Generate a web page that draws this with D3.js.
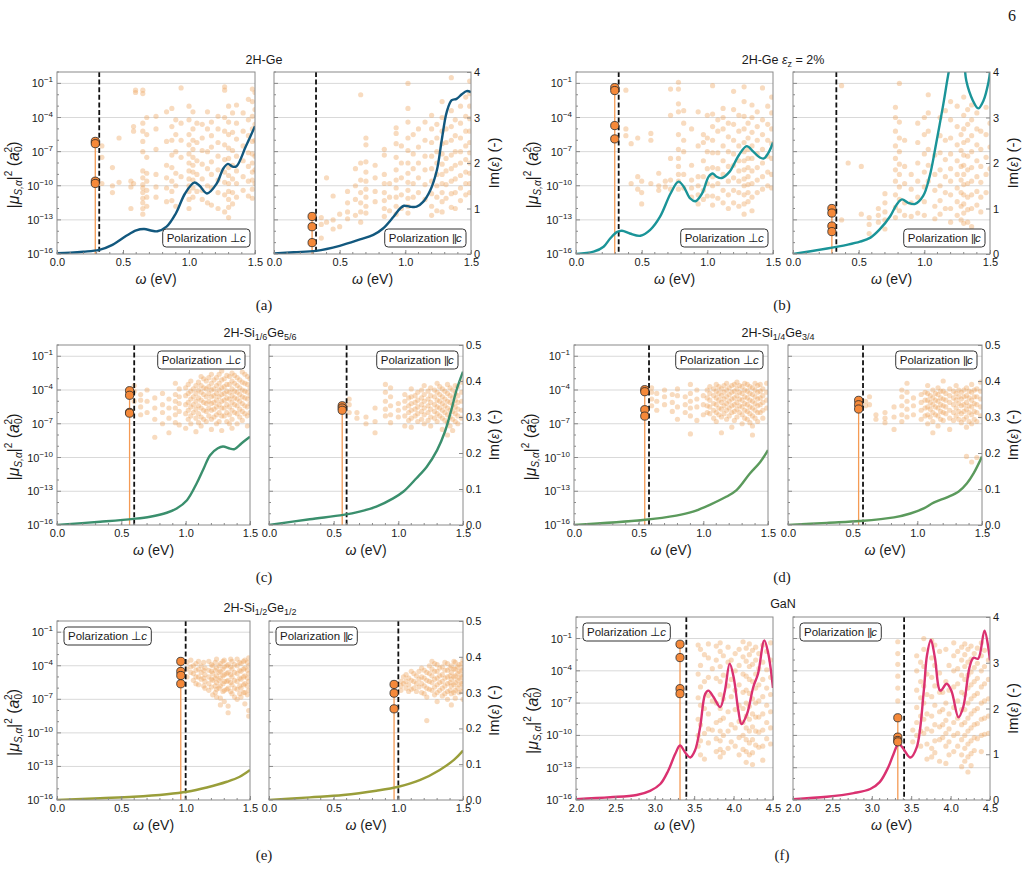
<!DOCTYPE html>
<html><head><meta charset="utf-8">
<script src="https://cdn.jsdelivr.net/npm/d3@7"></script>
<style>
body{margin:0;background:#fff;}
text{font-family:"Liberation Sans",Arial,Helvetica,sans-serif;fill:#1a1a1a;}
</style></head><body>
<svg id="c" width="1025" height="891"></svg>
<script>
// ---------------- DATA ----------------
// Im(eps) curves: [omega (eV), Im(eps)]
const curve_a_perp = [[0,0.02],[0.1,0.03],[0.2,0.05],[0.32,0.09],[0.42,0.2],[0.525,0.4],[0.6,0.52],[0.66,0.55],[0.72,0.51],[0.76,0.5],[0.83,0.6],[0.9,0.89],[0.97,1.33],[1.04,1.57],[1.08,1.5],[1.136,1.33],[1.21,1.55],[1.26,1.88],[1.295,1.98],[1.33,1.92],[1.36,1.93],[1.43,2.36],[1.5,2.81]];
const curve_a_par = [[0,0.01],[0.15,0.04],[0.32,0.07],[0.5,0.18],[0.655,0.32],[0.756,0.42],[0.83,0.56],[0.91,0.82],[0.96,1.0],[0.99,1.06],[1.035,1.04],[1.086,1.04],[1.137,1.15],[1.19,1.4],[1.24,1.84],[1.277,2.5],[1.315,3.12],[1.353,3.38],[1.39,3.41],[1.43,3.51],[1.467,3.58],[1.5,3.56]];
const curve_b_perp = [[0,0.0],[0.134,0.05],[0.21,0.16],[0.26,0.34],[0.31,0.48],[0.35,0.51],[0.41,0.45],[0.49,0.4],[0.565,0.53],[0.64,0.82],[0.72,1.33],[0.78,1.59],[0.82,1.48],[0.87,1.22],[0.91,1.16],[0.96,1.33],[1.01,1.7],[1.04,1.77],[1.07,1.7],[1.11,1.67],[1.17,1.81],[1.24,2.17],[1.3,2.37],[1.35,2.25],[1.4,2.12],[1.43,2.1],[1.47,2.25],[1.5,2.45]];
const curve_b_par = [[0,0.0],[0.26,0.12],[0.41,0.2],[0.51,0.27],[0.59,0.36],[0.66,0.54],[0.74,0.83],[0.79,1.09],[0.83,1.2],[0.88,1.12],[0.93,1.1],[0.99,1.27],[1.04,1.7],[1.09,2.43],[1.145,3.3],[1.18,3.91],[1.22,4.5],[1.26,4.8],[1.3,4.3],[1.32,3.8],[1.37,3.37],[1.41,3.2],[1.45,3.37],[1.49,3.8],[1.5,4.0]];
const curve_c_perp = [[0,0],[0.336,0.009],[0.595,0.017],[0.724,0.023],[0.853,0.034],[0.93,0.046],[1.01,0.069],[1.086,0.116],[1.14,0.157],[1.19,0.194],[1.25,0.213],[1.29,0.218],[1.345,0.212],[1.38,0.211],[1.435,0.227],[1.5,0.245]];
const curve_c_par = [[0,0],[0.315,0.016],[0.574,0.028],[0.7,0.037],[0.83,0.051],[0.96,0.074],[1.04,0.093],[1.14,0.13],[1.22,0.162],[1.3,0.208],[1.36,0.259],[1.41,0.32],[1.45,0.375],[1.5,0.426]];
const curve_d_perp = [[0,0],[0.534,0.014],[0.79,0.026],[0.92,0.037],[1.05,0.056],[1.18,0.079],[1.257,0.097],[1.36,0.143],[1.44,0.175],[1.5,0.208]];
const curve_d_par = [[0,0],[0.3,0.006],[0.56,0.011],[0.82,0.021],[0.946,0.032],[1.05,0.046],[1.126,0.062],[1.23,0.077],[1.32,0.093],[1.384,0.116],[1.436,0.144],[1.5,0.19]];
const curve_e_perp = [[0,0],[0.336,0.005],[0.595,0.009],[0.853,0.016],[1.01,0.023],[1.164,0.035],[1.32,0.051],[1.42,0.065],[1.5,0.084]];
const curve_e_par = [[0,0],[0.315,0.0074],[0.574,0.014],[0.83,0.026],[1.0,0.037],[1.17,0.056],[1.32,0.084],[1.43,0.112],[1.5,0.138]];
const curve_f_perp = [[2,0.02],[2.435,0.06],[2.77,0.11],[2.94,0.2],[3.07,0.35],[3.17,0.64],[3.26,1.01],[3.32,1.19],[3.385,1.04],[3.45,0.93],[3.51,1.08],[3.575,1.59],[3.64,2.32],[3.68,2.39],[3.745,2.25],[3.83,2.03],[3.89,2.39],[3.95,2.98],[4.0,2.69],[4.06,1.96],[4.1,1.66],[4.17,1.88],[4.25,2.47],[4.31,2.76],[4.39,3.49],[4.44,3.2],[4.5,2.45]];
const curve_f_par = [[2,0.02],[2.43,0.07],[2.77,0.15],[2.98,0.24],[3.1,0.39],[3.21,0.72],[3.275,1.0],[3.34,1.23],[3.4,1.12],[3.49,0.93],[3.57,1.15],[3.66,2.39],[3.7,3.16],[3.75,3.5],[3.8,3.12],[3.87,2.39],[3.95,2.54],[4.01,2.39],[4.1,1.81],[4.16,2.03],[4.24,2.9],[4.29,3.11],[4.35,3.09],[4.43,3.7],[4.5,3.05]];

// dipole scatter: [omega (eV), [log10 |mu|^2 ...]]
const scatter_a_perp = [[0.34,[-6.5,-7.5,-9.8]],[0.42,[-8.4,-10.0,-10.6]],[0.47,[-5.8,-9.7]],[0.56,[-9.6,-10.1,-12.0]],[0.58,[-4.8,-5.2,-9.8]],[0.595,[-1.6,-1.8]],[0.65,[-1.6,-1.9,-4.5,-5.2,-6.1,-7.0,-8.7,-9.3,-9.9,-10.2,-10.6,-11.1,-11.5,-12.0,-12.5]],[0.68,[-4.0,-5.5,-7.5,-8.9,-9.6,-10.4,-11.0,-11.8]],[0.75,[-3.9,-5.0,-6.8,-9.0,-10.1,-11.0]],[0.83,[-3.5,-6.1,-8.2,-9.3,-10.2,-11.4]],[0.87,[-3.2,-4.8,-6.0,-7.3,-8.4,-9.6,-10.5,-11.3]],[0.9,[-4.2,-5.5,-7.0,-8.9,-10.0,-11.8]],[0.94,[-1.4,-4.5,-6.0,-7.5,-9.2]],[1.0,[-3.0,-4.2,-5.5,-6.4,-7.2,-8.0,-8.7,-9.4,-10.0,-10.5,-11.2,-12.0]],[1.03,[-3.5,-5.0,-6.0,-6.8,-7.5,-8.2,-8.8,-9.5,-10.2,-11.0]],[1.06,[-4.5,-6.2,-7.8,-9.0,-10.5]],[1.1,[-4.6,-5.8,-6.9,-8.1,-9.4,-10.4,-11.2]],[1.14,[-3.5,-5.0,-7.0,-8.5,-10.0,-11.5]],[1.17,[-4.4,-5.6,-6.6,-7.9,-9.0,-10.2,-11.7]],[1.22,[-3.9,-5.0,-6.2,-7.4,-8.6,-9.5,-10.6,-12.0]],[1.27,[-1.3,-1.6,-4.0,-5.2,-6.4,-7.7,-8.8,-9.7,-10.8,-12.3]],[1.3,[-3.0,-4.4,-5.5,-6.7,-7.6,-8.4,-9.1,-9.8,-10.5,-11.2,-11.9,-12.8]],[1.33,[-3.6,-5.3,-6.9,-8.2,-9.4,-10.6,-11.6]],[1.36,[-2.9,-4.5,-5.9,-7.4,-8.7,-9.8,-11.0]],[1.41,[-3.6,-5.2,-6.5,-7.8,-9.2,-10.4]],[1.45,[-2.4,-4.2,-5.6,-7.1,-8.3,-9.6,-10.9]],[1.48,[-1.5,-2.6,-3.9,-5.0,-6.1,-7.2,-8.0,-8.8,-9.5,-10.3,-11.1]],[1.5,[-1.8,-3.3,-4.6,-6.0,-7.4,-8.6,-9.8]]];
const scatter_a_par = [[0.36,[-12.8,-13.4,-14.6]],[0.4,[-9.3,-13.2]],[0.45,[-10.9,-13.0,-13.8]],[0.5,[-12.5,-13.6]],[0.56,[-10.5,-11.5,-12.3,-12.9]],[0.62,[-8.5,-10.0,-11.2,-12.6]],[0.66,[-2.0,-8.0,-9.5,-10.6,-11.5,-12.3,-13.2]],[0.7,[-5.8,-6.4,-7.9,-8.8,-9.6,-10.3,-11.0,-11.8,-12.4]],[0.77,[-8.2,-9.3,-10.5,-11.4]],[0.84,[-6.8,-7.3,-9.0,-9.8,-10.6,-11.3,-12.0,-12.7]],[0.88,[-9.8,-11.0,-12.2]],[0.93,[-4.9,-5.4,-6.3,-7.5,-8.6,-9.5,-10.2,-11.0,-11.8,-12.5]],[0.97,[-6.5,-8.0,-9.3,-10.8,-12.0]],[1.02,[-1.0,-3.2,-4.4,-5.8,-6.9,-8.0,-8.9,-9.7,-10.4,-11.1,-11.8,-12.4]],[1.06,[-5.5,-7.2,-8.5,-9.8,-11.0]],[1.1,[-5.0,-6.6,-8.0,-9.3,-10.6]],[1.15,[-4.4,-6.0,-7.4,-8.6,-9.9,-11.2]],[1.2,[-3.8,-5.0,-6.2,-7.4,-8.5,-9.6,-10.7,-11.8,-12.6]],[1.24,[-4.6,-5.8,-7.0,-8.0,-9.0,-10.0,-11.0,-12.2]],[1.28,[-2.6,-4.0,-5.2,-6.3,-7.2,-8.1,-9.0,-9.8,-10.6,-11.4,-12.3]],[1.31,[-5.0,-6.2,-7.6,-8.7,-9.9,-11.1]],[1.35,[-0.5,-3.4,-4.8,-6.0,-7.3,-8.5,-9.6,-10.7,-11.9]],[1.38,[-4.2,-5.6,-7.0,-8.2,-9.4,-10.6,-12.0]],[1.42,[-3.0,-4.5,-5.8,-7.0,-8.0,-9.1,-10.2,-11.3]],[1.46,[-2.2,-3.9,-5.2,-6.5,-7.7,-8.8,-9.8,-10.8]],[1.49,[-0.8,-1.9,-3.0,-4.1,-5.2,-6.2,-7.1,-8.0,-8.9,-9.8,-10.6]]];
const scatter_b_perp = [[0.38,[-1.6,-5.0,-5.6]],[0.42,[-6.3,-9.8]],[0.47,[-5.8,-9.2,-10.3]],[0.5,[-9.6,-10.6,-11.6]],[0.57,[-5.4,-6.0,-9.8]],[0.63,[-8.9,-10.0,-10.4]],[0.68,[-9.6,-10.1]],[0.72,[-1.5,-3.8,-7.6,-9.5,-10.3]],[0.78,[-0.9,-1.5,-2.8,-3.5,-5.5,-6.8,-7.6,-8.3,-9.0,-9.6,-10.3]],[0.82,[-3.4,-4.5,-6.0,-7.0,-9.0,-10.2]],[0.88,[-5.0,-8.2,-9.5,-10.2,-11.0]],[0.93,[-3.5,-6.5,-9.2,-10.0,-10.8,-11.6]],[0.97,[-5.5,-6.2,-7.8,-9.2,-10.4,-11.2]],[1.0,[-3.8,-5.8,-7.0,-8.5,-9.8,-10.9]],[1.04,[-1.2,-3.7,-4.8,-6.0,-7.1,-8.4,-9.2,-10.0,-10.9,-11.7]],[1.08,[-4.2,-5.2,-7.1,-8.5,-9.8,-11.1]],[1.12,[-3.2,-4.0,-5.0,-6.5,-7.8,-9.0,-10.4,-11.5]],[1.16,[-4.5,-5.7,-7.0,-8.3,-9.6,-10.8,-12.0]],[1.2,[-1.7,-3.3,-4.6,-6.0,-7.2,-8.2,-9.3,-10.4,-11.5]],[1.24,[-3.8,-5.2,-6.5,-7.8,-8.7,-9.6,-10.6,-11.8]],[1.28,[-1.3,-2.6,-3.9,-5.0,-6.2,-7.0,-7.8,-8.6,-9.4,-10.0,-10.8,-11.6,-12.5]],[1.31,[-4.5,-5.8,-6.8,-7.6,-8.4,-9.2,-9.9,-10.6,-11.4]],[1.34,[-2.9,-4.0,-5.3,-6.5,-7.6,-8.7,-9.8,-11.0,-12.2]],[1.38,[-3.5,-4.8,-6.0,-7.2,-8.4,-9.5,-10.6]],[1.42,[-1.4,-4.2,-5.5,-6.8,-8.0,-9.2,-10.3]],[1.46,[-3.0,-4.6,-6.0,-7.4,-8.8,-10.0]],[1.49,[-2.2,-3.6,-5.0,-6.3,-7.6,-9.0,-10.2]]];
const scatter_b_par = [[0.37,[-1.2,-13.0]],[0.42,[-8.0]],[0.52,[-8.3,-12.5]],[0.58,[-12.8,-13.4,-14.2]],[0.65,[-12.0,-12.6,-13.2]],[0.7,[-10.7,-11.5,-12.3,-13.0,-13.8]],[0.78,[-3.1,-4.0,-5.2,-6.5,-7.6,-8.6,-9.6,-10.8,-11.9,-12.8]],[0.81,[-1.0,-4.4,-5.8,-7.0,-8.1,-9.0,-10.1,-11.2,-12.2]],[0.85,[-6.0,-8.3,-9.8,-11.5,-12.6]],[0.9,[-9.0,-10.3,-11.5,-12.7]],[0.95,[-4.5,-6.2,-8.0,-9.6,-11.0,-12.4]],[1.0,[-4.0,-5.5,-7.2,-8.8,-10.1,-11.4,-12.6]],[1.03,[-2.0,-3.6,-5.2,-6.8,-8.2,-9.6]],[1.08,[-7.3,-9.0,-10.4,-11.8,-12.9]],[1.12,[-4.0,-5.6,-7.1,-8.6,-10.0,-11.3,-12.5]],[1.16,[-3.4,-6.0,-7.7,-9.2,-10.6,-12.0]],[1.2,[-2.6,-4.2,-5.8,-7.2,-8.5,-9.6,-10.8,-12.0,-13.2]],[1.25,[-3.0,-4.8,-6.4,-7.8,-9.0,-10.2,-11.4,-12.6,-14.2]],[1.28,[-5.5,-6.9,-8.3,-9.5,-10.6,-11.8,-13.0]],[1.3,[-2.2,-3.8,-5.0,-6.2,-7.3,-8.2,-9.0,-9.9,-10.8,-11.6,-12.4,-13.3,-14.5]],[1.33,[-3.3,-4.6,-6.0,-7.4,-8.6,-9.8,-11.0,-12.1,-13.2]],[1.36,[-2.9,-4.2,-5.6,-7.0,-8.4,-9.6,-10.8,-12.0,-13.6]],[1.4,[-3.6,-5.0,-6.4,-7.8,-9.2,-10.5,-11.7]],[1.43,[-5.2,-6.8,-8.3,-9.7,-11.0,-12.3]],[1.47,[-3.1,-5.5,-7.5,-9.0,-10.6]],[1.5,[-4.5,-6.6,-8.5]]];
const scatter_c_perp = [[0.6,[-3.6,-4.1,-5.0]],[0.65,[-4.4,-4.9,-5.5,-6.2]],[0.7,[-4.0,-5.0,-6.0]],[0.76,[-4.7,-5.6,-6.6,-8.2]],[0.82,[-4.3,-5.3,-6.0,-7.0]],[0.87,[-4.8,-5.6,-6.5,-7.8]],[0.92,[-3.4,-4.4,-5.0,-5.6,-6.2,-6.9]],[0.95,[-3.9,-4.6,-5.2,-5.9,-7.1]],[1.0,[-3.8,-4.5,-5.3,-6.1,-7.4]],[1.02,[-3.5,-4.3,-5.1,-5.8,-6.6]],[1.04,[-3.2,-4.1,-4.8,-5.5,-6.3,-7.0]],[1.06,[-3.9,-4.6,-5.3,-6.0]],[1.08,[-3.6,-4.3,-5.0,-5.7,-6.5,-7.7]],[1.1,[-3.3,-4.0,-4.7,-5.4,-6.1,-6.9]],[1.12,[-2.8,-3.6,-4.2,-4.9,-5.6,-6.4,-7.2]],[1.14,[-3.0,-3.8,-4.4,-5.1,-5.8,-6.6]],[1.16,[-3.2,-3.9,-4.6,-5.2,-5.9,-6.8]],[1.18,[-2.9,-3.7,-4.3,-5.0,-5.6,-6.3]],[1.2,[-2.6,-3.4,-4.0,-4.6,-5.2,-5.8,-6.6,-7.5]],[1.22,[-3.1,-3.9,-4.5,-5.1,-5.7,-6.4]],[1.24,[-2.9,-3.6,-4.3,-4.9,-5.5,-6.2,-7.0]],[1.26,[-2.6,-3.4,-4.0,-4.6,-5.3,-6.0,-6.8]],[1.28,[-2.3,-3.1,-3.8,-4.4,-5.0,-5.6,-6.3,-7.6]],[1.3,[-3.0,-3.7,-4.3,-4.9,-5.6,-6.3]],[1.32,[-2.7,-3.5,-4.1,-4.7,-5.3,-6.0,-6.8]],[1.34,[-2.8,-3.5,-4.2,-4.8,-5.5,-6.2,-7.0]],[1.36,[-2.5,-3.2,-3.9,-4.5,-5.1,-5.8,-6.6,-7.4]],[1.38,[-2.7,-3.4,-4.1,-4.7,-5.3,-6.0]],[1.4,[-2.9,-3.6,-4.2,-4.8,-5.4,-6.1,-7.0]],[1.42,[-3.1,-3.8,-4.4,-5.0,-5.7,-6.4]],[1.44,[-2.4,-3.3,-4.0,-4.6,-5.2,-5.9,-6.7]],[1.46,[-2.6,-3.4,-4.1,-4.7,-5.4,-6.1]],[1.48,[-2.8,-3.5,-4.2,-4.8,-5.5,-6.3,-7.2]],[1.5,[-3.0,-3.8,-4.5,-5.2,-6.0]]];
const scatter_c_par = [[0.62,[-4.8,-5.3,-6.0]],[0.68,[-6.0,-6.5]],[0.75,[-6.4,-7.0]],[0.82,[-5.6,-6.8,-7.8]],[0.9,[-3.5,-4.2,-5.0,-5.7,-6.3]],[0.94,[-3.8,-4.6,-5.4,-6.2,-6.9]],[1.0,[-5.2,-5.8,-6.4]],[1.05,[-4.4,-5.0,-5.6,-6.3,-7.2]],[1.08,[-4.7,-5.4,-6.0,-6.7]],[1.1,[-3.9,-4.6,-5.2,-5.8,-6.5,-7.3]],[1.13,[-4.5,-5.1,-5.7,-6.3]],[1.15,[-4.2,-4.9,-5.5,-6.1,-6.8]],[1.18,[-4.0,-4.7,-5.3,-5.9,-6.6]],[1.2,[-3.6,-4.4,-5.0,-5.6,-6.2,-7.0]],[1.23,[-4.1,-4.8,-5.4,-6.0,-6.7]],[1.25,[-3.8,-4.5,-5.1,-5.7,-6.4,-7.2]],[1.28,[-4.0,-4.6,-5.3,-5.9,-6.5]],[1.3,[-3.4,-4.2,-4.9,-5.5,-6.1,-6.8]],[1.32,[-3.7,-4.4,-5.0,-5.6,-6.3]],[1.34,[-3.9,-4.6,-5.2,-5.8,-6.5,-7.5]],[1.36,[-4.1,-4.8,-5.4,-6.0,-6.7]],[1.38,[-3.5,-4.3,-5.0,-5.6,-6.2,-6.9,-8.0]],[1.4,[-3.8,-4.5,-5.1,-5.8,-6.4,-7.2]],[1.42,[-4.0,-4.7,-5.3,-5.9,-6.6,-7.6]],[1.44,[-3.6,-4.3,-4.9,-5.5,-6.1,-6.8]],[1.46,[-3.7,-4.5,-5.1,-5.7,-6.3,-7.0]],[1.49,[-3.3,-4.2,-5.0,-5.8,-6.5]]];
const scatter_d_perp = [[0.6,[-3.8,-4.2,-4.8,-5.4]],[0.64,[-4.3,-5.0,-5.8]],[0.7,[-4.0,-4.6,-5.3]],[0.76,[-4.4,-5.1,-5.9]],[0.8,[-3.9,-4.5,-5.5,-6.6]],[0.86,[-4.6,-5.3,-6.0]],[0.9,[-3.5,-4.3,-5.0,-5.6,-6.3,-7.9]],[0.95,[-4.0,-4.8,-5.5,-6.7]],[1.0,[-4.5,-5.3,-6.2]],[1.03,[-4.0,-4.7,-5.4,-6.0]],[1.05,[-3.7,-4.3,-4.9,-5.5,-6.1]],[1.08,[-3.9,-4.5,-5.2,-5.8,-6.5]],[1.1,[-3.5,-4.1,-4.7,-5.3,-6.0,-6.8]],[1.12,[-3.7,-4.3,-4.9,-5.6,-6.2]],[1.14,[-3.9,-4.5,-5.1,-5.7,-6.4,-7.8]],[1.16,[-3.6,-4.2,-4.8,-5.4,-6.1]],[1.18,[-3.4,-4.0,-4.6,-5.2,-5.8,-6.6]],[1.2,[-3.8,-4.4,-5.0,-5.6,-6.3]],[1.22,[-3.6,-4.2,-4.8,-5.4,-6.0,-7.3]],[1.24,[-3.5,-4.1,-4.7,-5.3,-5.9,-6.7]],[1.26,[-3.3,-3.9,-4.5,-5.1,-5.7,-6.4]],[1.28,[-3.6,-4.2,-4.8,-5.4,-6.0]],[1.3,[-3.7,-4.3,-4.9,-5.5,-6.2,-7.0]],[1.32,[-3.4,-4.0,-4.6,-5.2,-5.8,-6.5]],[1.34,[-3.5,-4.1,-4.7,-5.3,-5.9,-6.6]],[1.36,[-3.7,-4.3,-4.9,-5.5,-6.1,-6.9]],[1.38,[-3.8,-4.4,-5.0,-5.6,-6.3,-7.2,-8.0]],[1.4,[-3.4,-4.0,-4.6,-5.2,-5.8,-6.5]],[1.42,[-3.6,-4.2,-4.8,-5.4,-6.0,-6.8]],[1.44,[-3.5,-4.1,-4.7,-5.3,-6.0]],[1.46,[-3.9,-4.5,-5.1,-5.8,-6.5]],[1.49,[-3.4,-4.2,-4.9,-5.6]]];
const scatter_d_par = [[0.6,[-5.0,-5.4]],[0.63,[-4.6,-5.3]],[0.68,[-6.2,-6.6]],[0.75,[-6.0,-6.5,-6.9]],[0.82,[-5.5,-6.4,-7.5]],[0.88,[-4.0,-4.6,-5.4,-6.2,-6.8]],[0.92,[-3.4,-4.2,-5.0,-5.7,-6.4]],[0.97,[-4.7,-5.4,-6.2]],[1.03,[-4.4,-5.1,-5.8,-6.6]],[1.06,[-4.2,-4.9,-5.6,-6.3]],[1.08,[-3.6,-4.3,-4.9,-5.5,-6.2,-7.0]],[1.1,[-4.5,-5.1,-5.7,-6.4]],[1.12,[-4.0,-4.7,-5.3,-6.0,-6.8,-7.8]],[1.14,[-4.3,-4.9,-5.5,-6.2]],[1.16,[-3.8,-4.4,-5.0,-5.6,-6.3,-7.2]],[1.18,[-4.1,-4.7,-5.3,-5.9,-6.6]],[1.2,[-3.2,-4.1,-4.8,-5.4,-6.0,-6.7]],[1.22,[-4.3,-4.9,-5.5,-6.1]],[1.25,[-3.9,-4.5,-5.1,-5.8,-6.5,-7.5]],[1.28,[-4.1,-4.7,-5.3,-6.0,-6.7]],[1.3,[-3.6,-4.3,-4.9,-5.6,-6.3]],[1.32,[-4.0,-4.6,-5.2,-5.9,-6.6]],[1.34,[-4.2,-4.8,-5.4,-6.1,-6.9]],[1.36,[-4.0,-4.6,-5.3,-5.9,-6.6]],[1.38,[-3.8,-4.5,-5.1,-5.7,-6.4,-7.3,-9.9]],[1.4,[-4.1,-4.7,-5.4,-6.0,-6.8]],[1.42,[-3.5,-4.2,-4.9,-5.5,-6.2,-7.0,-10.4]],[1.44,[-4.0,-4.6,-5.2,-5.9,-6.6]],[1.46,[-3.9,-4.6,-5.3,-6.0,-6.8,-10.0]],[1.49,[-3.3,-4.1,-4.8,-5.5,-6.3]]];
const scatter_e_perp = [[1.01,[-3.7,-4.3,-5.0]],[1.04,[-3.5,-4.1,-4.6]],[1.06,[-4.0,-4.7,-5.3]],[1.08,[-3.8,-4.4,-5.0,-5.6]],[1.1,[-3.6,-4.3,-5.0,-5.7]],[1.12,[-4.0,-4.6,-5.2]],[1.14,[-3.7,-4.4,-5.1,-5.8]],[1.15,[-4.2,-4.8,-5.4,-6.0]],[1.18,[-3.6,-4.4,-5.0,-5.6,-6.2]],[1.2,[-3.9,-4.5,-5.2,-5.9]],[1.21,[-4.0,-4.7,-5.3,-6.6]],[1.23,[-3.7,-4.4,-5.1,-5.8,-6.4]],[1.24,[-3.4,-4.2,-4.9,-5.5,-6.1,-6.8]],[1.26,[-4.0,-4.6,-5.3,-6.0]],[1.27,[-3.8,-4.5,-5.1,-5.8,-6.9,-7.5]],[1.29,[-3.6,-4.3,-4.9,-5.6,-6.3]],[1.3,[-3.5,-4.1,-4.8,-5.4,-6.2,-7.2]],[1.32,[-4.0,-4.7,-5.4,-6.1]],[1.33,[-3.9,-4.6,-5.3,-6.0,-7.6,-8.2]],[1.35,[-3.4,-4.1,-4.8,-5.5,-6.3]],[1.36,[-3.6,-4.3,-5.0,-5.7,-6.5]],[1.38,[-3.9,-4.6,-5.3,-6.0,-6.8]],[1.4,[-3.4,-4.0,-4.7,-5.4,-6.1,-7.0]],[1.42,[-3.7,-4.4,-5.1,-5.8,-6.5]],[1.43,[-3.8,-4.5,-5.2,-6.0,-6.8]],[1.45,[-3.6,-4.3,-5.0,-5.7,-6.4]],[1.46,[-3.5,-4.2,-4.9,-5.6,-6.4,-7.4]],[1.48,[-3.7,-4.4,-5.1,-5.8,-6.6]],[1.49,[-3.3,-4.0,-4.7,-5.4,-6.2,-8.0,-8.5]]];
const scatter_e_par = [[1.02,[-5.4,-5.8,-6.2]],[1.04,[-5.0,-5.6]],[1.06,[-4.8,-5.4,-6.0]],[1.08,[-5.1,-5.7,-6.3]],[1.1,[-4.5,-5.3,-6.1]],[1.12,[-4.7,-5.4,-6.0]],[1.14,[-4.9,-5.6,-6.3]],[1.16,[-4.5,-5.2,-5.9]],[1.18,[-4.2,-5.0,-5.6,-6.4]],[1.2,[-4.4,-5.1,-5.8,-6.5]],[1.22,[-4.6,-5.3,-6.0,-6.8,-8.9]],[1.24,[-4.0,-4.7,-5.4,-6.1]],[1.26,[-3.6,-4.3,-4.9,-5.5,-6.2]],[1.28,[-3.8,-4.5,-5.2,-5.9,-6.6]],[1.3,[-3.9,-4.5,-5.1,-5.7,-6.4,-7.2]],[1.32,[-4.2,-4.9,-5.5,-6.2]],[1.34,[-4.1,-4.8,-5.4,-6.0,-6.7]],[1.36,[-3.7,-4.4,-5.1,-5.8,-6.5]],[1.38,[-3.8,-4.4,-5.0,-5.6,-6.3,-7.0]],[1.4,[-4.2,-4.9,-5.5,-6.2]],[1.41,[-4.0,-4.6,-5.2,-5.8,-6.5,-7.5]],[1.43,[-3.6,-4.3,-5.0,-5.7,-6.4]],[1.44,[-3.7,-4.3,-4.9,-5.5,-6.2,-6.9]],[1.46,[-4.1,-4.7,-5.3,-6.0]],[1.47,[-3.9,-4.5,-5.1,-5.7,-6.4]],[1.49,[-3.8,-4.4,-5.0,-5.6,-6.3]],[1.5,[-3.5,-4.2,-4.8,-5.4,-6.0,-7.0]]];
const scatter_f_perp = [[3.55,[-1.6,-4.3,-6.5,-8.5,-10.0,-11.0]],[3.58,[-2.0,-3.5,-5.5,-7.2,-9.0,-10.5,-11.8]],[3.63,[-2.5,-5.0,-7.5,-9.8,-12.2]],[3.68,[-1.5,-2.8,-4.6,-6.3,-8.0,-9.4,-10.7]],[3.73,[-3.8,-6.8,-9.5]],[3.78,[-1.7,-3.0,-4.7,-7.0,-8.8,-10.3,-11.5]],[3.83,[-1.4,-2.2,-3.6,-5.0,-6.2,-7.5,-8.6,-9.6,-10.5,-11.3,-12.0]],[3.87,[-2.6,-4.4,-6.6,-8.4,-10.0,-11.6]],[3.93,[-1.8,-3.2,-5.4,-7.8,-9.6,-11.2]],[3.97,[-3.0,-4.8,-6.4,-9.0,-10.6]],[4.02,[-2.4,-4.0,-5.8,-7.6,-9.3,-11.0]],[4.07,[-2.0,-3.5,-5.3,-7.2,-8.7,-10.2,-11.8]],[4.12,[-1.3,-2.7,-4.3,-6.0,-7.5,-8.8,-10.0,-11.3]],[4.16,[-1.9,-3.1,-4.5,-5.8,-7.0,-8.2,-9.3,-10.4,-11.5,-12.5]],[4.2,[-1.5,-2.5,-3.6,-4.8,-6.1,-7.3,-8.5,-9.6,-10.7,-11.8]],[4.24,[-2.1,-3.4,-5.0,-6.6,-8.0,-9.2,-10.4,-11.6,-12.7]],[4.28,[-1.8,-3.0,-4.3,-5.6,-7.0,-8.3,-9.6,-10.9]],[4.32,[-2.4,-3.8,-5.3,-6.8,-8.3,-9.7,-11.1]],[4.37,[-1.6,-3.2,-4.8,-6.4,-8.0,-9.5,-11.0,-12.3]],[4.42,[-2.2,-3.9,-5.6,-7.2,-8.8,-10.3]],[4.47,[-1.4,-3.0,-4.6,-6.2,-7.8,-9.3,-10.8]]];
const scatter_f_par = [[3.33,[-1.3,-2.4,-3.4,-4.5,-5.6,-6.8]],[3.52,[-9.5,-10.6]],[3.57,[-2.6,-4.0,-5.8,-7.4,-8.8,-10.0]],[3.62,[-3.2,-5.0,-6.5,-8.2,-9.6,-11.0]],[3.66,[-1.0,-2.0,-3.6,-5.4,-7.0,-8.5,-9.8]],[3.7,[-4.3,-6.2,-8.0,-9.4,-10.8,-12.2]],[3.76,[-1.2,-2.8,-4.6,-6.4,-8.2,-9.6,-11.2,-12.0]],[3.8,[-1.6,-3.5,-5.4,-7.2,-9.0,-10.5,-11.6]],[3.86,[-2.2,-4.2,-6.0,-7.8,-9.2,-10.4,-12.4]],[3.9,[-6.0,-7.6,-9.0,-10.2]],[3.94,[-2.0,-5.0,-7.0,-8.6,-9.8,-11.0,-12.6]],[3.98,[-3.5,-5.8,-8.0,-9.4,-10.6,-11.8]],[4.04,[-1.4,-2.6,-4.0,-5.5,-7.4,-8.8,-10.0,-11.5]],[4.09,[-2.2,-3.8,-5.2,-6.8,-8.4,-9.8,-11.0]],[4.14,[-1.8,-3.0,-4.4,-6.0,-7.6,-9.0,-10.4,-11.8,-12.9]],[4.18,[-1.5,-2.5,-3.6,-4.8,-6.2,-7.6,-8.8,-10.0,-11.2,-12.4]],[4.22,[-2.0,-3.2,-4.4,-5.6,-7.0,-8.4,-9.6,-10.8,-12.0,-13.4]],[4.26,[-1.7,-2.9,-4.1,-5.3,-6.6,-8.0,-9.3,-10.5,-11.7,-12.8]],[4.3,[-2.4,-3.7,-5.0,-6.3,-7.7,-9.0,-10.2,-11.4]],[4.34,[-1.9,-3.3,-4.7,-6.1,-7.5,-8.9,-10.3]],[4.39,[-1.4,-2.6,-4.0,-5.5,-7.0,-8.5,-10.0,-11.5]],[4.43,[-2.1,-3.6,-5.2,-6.8,-8.4,-9.9]],[4.48,[-3.0,-4.8,-6.6,-8.2,-9.8]]];

// bright exciton states: [omega (eV), [log10 |mu|^2 ...]]
const exciton_a_perp = [0.29, [-6.1,-6.3,-9.6,-9.8]];
const exciton_a_par  = [0.29, [-12.7,-13.6,-15.0]];
const exciton_b_perp = [0.295, [-1.37,-1.63,-4.71,-5.88]];
const exciton_b_par  = [0.296, [-12.0,-12.4,-13.54,-14.03]];
const exciton_c_perp = [0.564, [-4.06,-4.47,-5.99,-6.06]];
const exciton_c_par  = [0.566, [-5.4,-5.6,-5.8]];
const exciton_d_perp = [0.547, [-3.97,-4.15,-5.75,-6.32]];
const exciton_d_par  = [0.546, [-4.92,-5.31,-5.69]];
const exciton_e_perp = [0.962, [-3.61,-4.51,-4.87,-5.61]];
const exciton_e_par  = [0.967, [-5.67,-6.45,-7.85]];
const exciton_f_perp = [3.32, [-1.53,-2.77,-5.66,-6.12]];
const exciton_f_par  = [3.33, [-8.36,-10.16,-10.47,-10.6]];

// quasiparticle gap (dashed line), eV: [perp, par]
const gap_a = [0.32, 0.32];
const gap_b = [0.325, 0.33];
const gap_c = [0.6, 0.6];
const gap_d = [0.58, 0.58];
const gap_e = [1.0, 1.0];
const gap_f = [3.40, 3.41];

const xTicks15 = [0, 0.5, 1.0, 1.5];
const xTicksGaN = [2.0, 2.5, 3.0, 3.5, 4.0, 4.5];
const logTickExps = [-16, -13, -10, -7, -4, -1];
const imTicks4 = [0, 1, 2, 3, 4];
const imTicks05 = [0, 0.1, 0.2, 0.3, 0.4, 0.5];

// ---------------- LAYOUT / STYLE ----------------
const colors = {a:'#12587e', b:'#1a9498', c:'#3a8f6d', d:'#5b9a5c', e:'#999e3a', f:'#da3170'};
const panels = [
 {id:'a', title:[['2H-Ge']], L:[57,255], R:[274,471], top:72, bottom:254, xdom:[0,1.5], xt:xTicks15, logTop:0, rmax:4, rt:imTicks4, leg:'br', tx:264, ty:64, lx:264, ly:310,
  perp:{curve:curve_a_perp, sc:scatter_a_perp, ex:exciton_a_perp, gap:gap_a[0]}, par:{curve:curve_a_par, sc:scatter_a_par, ex:exciton_a_par, gap:gap_a[1]}},
 {id:'b', title:[['2H-Ge '],['ε','it'],['z','sub'],[' = 2%','back']], L:[576,773], R:[793,990], top:72, bottom:254, xdom:[0,1.5], xt:xTicks15, logTop:0, rmax:4, rt:imTicks4, leg:'br', tx:783, ty:64, lx:782, ly:310,
  perp:{curve:curve_b_perp, sc:scatter_b_perp, ex:exciton_b_perp, gap:gap_b[0]}, par:{curve:curve_b_par, sc:scatter_b_par, ex:exciton_b_par, gap:gap_b[1]}},
 {id:'c', title:[['2H-Si'],['1/6','sub'],['Ge','back'],['5/6','sub']], L:[57,250], R:[269,463], top:345, bottom:525, xdom:[0,1.5], xt:xTicks15, logTop:0, rmax:0.5, rt:imTicks05, leg:'tr', tx:260, ty:337, lx:264, ly:582,
  perp:{curve:curve_c_perp, sc:scatter_c_perp, ex:exciton_c_perp, gap:gap_c[0]}, par:{curve:curve_c_par, sc:scatter_c_par, ex:exciton_c_par, gap:gap_c[1]}},
 {id:'d', title:[['2H-Si'],['1/4','sub'],['Ge','back'],['3/4','sub']], L:[574,768], R:[788,982], top:345, bottom:525, xdom:[0,1.5], xt:xTicks15, logTop:0, rmax:0.5, rt:imTicks05, leg:'tr', tx:778, ty:337, lx:782, ly:582,
  perp:{curve:curve_d_perp, sc:scatter_d_perp, ex:exciton_d_perp, gap:gap_d[0]}, par:{curve:curve_d_par, sc:scatter_d_par, ex:exciton_d_par, gap:gap_d[1]}},
 {id:'e', title:[['2H-Si'],['1/2','sub'],['Ge','back'],['1/2','sub']], L:[57,250], R:[269,463], top:621, bottom:800, xdom:[0,1.5], xt:xTicks15, logTop:0, rmax:0.5, rt:imTicks05, leg:'tl', tx:260, ty:612, lx:264, ly:860,
  perp:{curve:curve_e_perp, sc:scatter_e_perp, ex:exciton_e_perp, gap:gap_e[0]}, par:{curve:curve_e_par, sc:scatter_e_par, ex:exciton_e_par, gap:gap_e[1]}},
 {id:'f', title:[['GaN']], L:[576,773], R:[793,990], top:617, bottom:800, xdom:[2,4.5], xt:xTicksGaN, logTop:1, rmax:4, rt:imTicks4, leg:'tl', tx:783, ty:608, lx:782, ly:860,
  perp:{curve:curve_f_perp, sc:scatter_f_perp, ex:exciton_f_perp, gap:gap_f[0]}, par:{curve:curve_f_par, sc:scatter_f_par, ex:exciton_f_par, gap:gap_f[1]}}
];

const svg = d3.select('#c');
const FRAME = '#8a8a8a';
let clipN = 0;

function richText(t, parts, small) {
  let shift = 0;
  parts.forEach(([s, kind]) => {
    const ts = t.append('tspan').text(s);
    if (kind === 'it') ts.attr('font-style','italic');
    if (kind === 'sub') { ts.attr('font-size', small).attr('dy', 3 - shift); shift = 3; }
    if (kind === 'back') { ts.attr('dy', -shift); shift = 0; }
  });
}

function drawSub(p, side) {
  const [x0, x1] = p[side === 'perp' ? 'L' : 'R'];
  const d = p[side];
  const col = colors[p.id];
  const x = d3.scaleLinear().domain(p.xdom).range([x0, x1]);
  const yL = d3.scaleLog().domain([1e-16, Math.pow(10, p.logTop)]).range([p.bottom, p.top]);
  const yR = d3.scaleLinear().domain([0, p.rmax]).range([p.bottom, p.top]);
  const g = svg.append('g');
  const cid = 'clip' + (clipN++);
  g.append('clipPath').attr('id', cid).append('rect')
    .attr('x', x0).attr('y', p.top).attr('width', x1 - x0).attr('height', p.bottom - p.top);

  // gridlines
  g.selectAll('line.grid').data(logTickExps.filter(e => e > -16 && e < p.logTop)).join('line')
    .attr('x1', x0).attr('x2', x1)
    .attr('y1', e => yL(Math.pow(10, e))).attr('y2', e => yL(Math.pow(10, e)))
    .attr('stroke', '#d9d9d9').attr('stroke-width', 1);

  const inner = g.append('g').attr('clip-path', `url(#${cid})`);
  // scatter
  const pts = d.sc.flatMap(([xv, Ls]) => Ls.map(L => [xv, L]));
  inner.selectAll('circle.sc').data(pts).join('circle')
    .attr('cx', q => x(q[0])).attr('cy', q => yL(Math.pow(10, q[1])))
    .attr('r', 2.6).attr('fill', '#eea460').attr('fill-opacity', 0.4);

  // exciton stem
  const [ex, eL] = d.ex;
  inner.append('line').attr('x1', x(ex)).attr('x2', x(ex))
    .attr('y1', p.bottom).attr('y2', yL(Math.pow(10, d3.max(eL))))
    .attr('stroke', '#f59b55').attr('stroke-width', 1.3);

  // dashed gap
  inner.append('line').attr('x1', x(d.gap)).attr('x2', x(d.gap))
    .attr('y1', p.top).attr('y2', p.bottom)
    .attr('stroke', '#111').attr('stroke-width', 1.8).attr('stroke-dasharray', '5,2.6');

  // curve
  const line = d3.line().x(q => x(q[0])).y(q => yR(q[1])).curve(d3.curveCatmullRom.alpha(0.5));
  inner.append('path').datum(d.curve).attr('d', line)
    .attr('fill', 'none').attr('stroke', col).attr('stroke-width', 2.4);

  // exciton dots
  g.selectAll('circle.ex').data(eL).join('circle')
    .attr('cx', x(ex)).attr('cy', L => yL(Math.pow(10, L)))
    .attr('r', 4.1).attr('fill', '#f5893a').attr('stroke', '#2a2a2a').attr('stroke-width', 0.8);

  // frame
  g.append('rect').attr('x', x0).attr('y', p.top).attr('width', x1 - x0).attr('height', p.bottom - p.top)
    .attr('fill', 'none').attr('stroke', FRAME).attr('stroke-width', 1);

  // x axis
  const xa = g.append('g').attr('transform', `translate(0,${p.bottom})`)
    .call(d3.axisBottom(x).tickValues(p.xt).tickFormat(d3.format('.1f')).tickSize(-4).tickPadding(4));
  xa.select('.domain').remove();
  xa.selectAll('line').attr('stroke', FRAME);
  xa.selectAll('text').attr('font-size', 11).attr('fill', '#1a1a1a').attr('font-family', '"Liberation Sans", Arial, sans-serif');
  // minor x ticks
  const minor = d3.range(Math.round(p.xdom[0]*10), Math.round(p.xdom[1]*10) + 1).map(v => v / 10);
  g.selectAll('line.mx').data(minor).join('line')
    .attr('x1', v => x(v)).attr('x2', v => x(v)).attr('y1', p.bottom).attr('y2', p.bottom - 2)
    .attr('stroke', FRAME);

  // x label
  const xl = g.append('text').attr('x', (x0 + x1) / 2).attr('y', p.bottom + 30)
    .attr('text-anchor', 'middle').attr('font-size', 14);
  xl.append('tspan').attr('font-style', 'italic').text('ω');
  xl.append('tspan').text(' (eV)');

  // log ticks on left spine
  g.selectAll('line.ly').data(d3.range(-16, p.logTop + 1)).join('line')
    .attr('x1', x0).attr('x2', e => x0 + (logTickExps.includes(e) ? 4 : 2))
    .attr('y1', e => yL(Math.pow(10, e))).attr('y2', e => yL(Math.pow(10, e)))
    .attr('stroke', FRAME);

  if (side === 'perp') {
    logTickExps.forEach(e => {
      const t = g.append('text').attr('x', x0 - 4).attr('y', yL(Math.pow(10, e)) + 4)
        .attr('text-anchor', 'end').attr('font-size', 11);
      t.append('tspan').text('10');
      t.append('tspan').attr('font-size', 8).attr('dy', -5).text('−' + Math.abs(e));
    });
    // y label
    const yl = g.append('text').attr('transform', `translate(${x0 - 38},${(p.top + p.bottom) / 2 + 12}) rotate(-90)`)
      .attr('text-anchor', 'middle').attr('font-size', 16);
    yl.append('tspan').text('|');
    yl.append('tspan').attr('font-style', 'italic').text('μ');
    yl.append('tspan').attr('font-size', 10).attr('dy', 3).attr('font-style', 'italic').text('S,α');
    yl.append('tspan').attr('dy', -3).text('|');
    yl.append('tspan').attr('font-size', 10).attr('dy', -7).text('2');
    yl.append('tspan').attr('dy', 7).text(' (');
    yl.append('tspan').attr('font-style', 'italic').text('a');
    yl.append('tspan').attr('font-size', 10).attr('dy', 3).text('0');
    yl.append('tspan').attr('font-size', 10).attr('dx', -6).attr('dy', -10).text('2');
    yl.append('tspan').attr('dy', 7).text(')');
  } else {
    const ra = g.append('g').attr('transform', `translate(${x1},0)`)
      .call(d3.axisRight(yR).tickValues(p.rt).tickFormat(p.rmax > 1 ? d3.format('d') : d3.format('.1f')).tickSize(-4).tickPadding(3));
    ra.select('.domain').remove();
    ra.selectAll('line').attr('stroke', FRAME);
    ra.selectAll('text').attr('font-size', 11).attr('fill', '#1a1a1a').attr('font-family', '"Liberation Sans", Arial, sans-serif');
    const rl = g.append('text').attr('transform', `translate(${x1 + (p.rmax > 1 ? 28 : 36)},${(p.top + p.bottom) / 2}) rotate(-90)`)
      .attr('text-anchor', 'middle').attr('font-size', 15);
    rl.append('tspan').text('Im(');
    rl.append('tspan').attr('font-style', 'italic').attr('font-size', 12).text('ε');
    rl.append('tspan').text(') (-)');
  }

  // legend
  const lg = g.append('g');
  const lt = lg.append('text').attr('font-size', 11.5).attr('x', 0).attr('y', 0);
  if (side === 'perp') {
    lt.append('tspan').text('Polarization ⊥');
  } else {
    lt.append('tspan').text('Polarization ');
    lt.append('tspan').attr('letter-spacing', -1).text('||');
    lt.append('tspan').attr('dx', 1.5).text('');
  }
  lt.append('tspan').attr('font-style', 'italic').text('c');
  const bb = lt.node().getBBox();
  const padX = 4, padY = 3;
  const bw = bb.width + 2 * padX, bh = bb.height + 2 * padY;
  let bx, by;
  if (p.leg === 'br') { bx = x1 - 5 - bw; by = p.bottom - 7 - bh; }
  else if (p.leg === 'tr') { bx = x1 - 5 - bw; by = p.top + 6; }
  else { bx = x0 + 7; by = p.top + 6; }
  lg.insert('rect', 'text').attr('x', bx).attr('y', by).attr('width', bw).attr('height', bh)
    .attr('rx', 3.5).attr('fill', '#fff').attr('stroke', '#333').attr('stroke-width', 1);
  lt.attr('x', bx + padX - bb.x).attr('y', by + padY - bb.y);
}

panels.forEach(p => {
  drawSub(p, 'perp');
  drawSub(p, 'par');
  const t = svg.append('text').attr('x', p.tx).attr('y', p.ty).attr('text-anchor', 'middle').attr('font-size', 12.5);
  richText(t, p.title, 9);
  svg.append('text').attr('x', p.lx).attr('y', p.ly).attr('text-anchor', 'middle')
    .attr('font-size', 15).style('font-family', '"Liberation Serif",serif')
    .text('(' + p.id + ')');
});
svg.append('text').attr('x', 1012).attr('y', 21).attr('text-anchor', 'middle')
  .attr('font-size', 16).style('font-family', '"Liberation Serif",serif').text('6');
</script></body></html>
